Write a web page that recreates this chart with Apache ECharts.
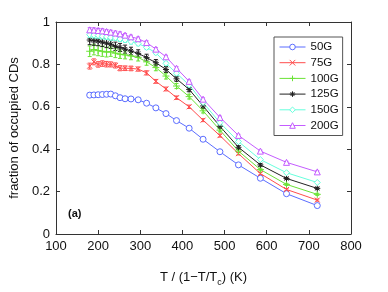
<!DOCTYPE html>
<html><head><meta charset="utf-8">
<script src="https://cdn.jsdelivr.net/npm/echarts@6/dist/echarts.min.js"></script>
<style>html,body{margin:0;padding:0;background:#fff}#c{width:388px;height:292px}</style>
</head><body><div id="c"></div>
<script>
var xVals = [180,190,200,210,220,230,241,252,264,278,295,315,337,361,386,416,449,489,533,585,647,720];
var seriesNames = ['50G','75G','100G','125G','150G','200G'];
var v50  = [0.655,0.656,0.657,0.658,0.659,0.660,0.652,0.643,0.638,0.637,0.633,0.617,0.595,0.568,0.535,0.499,0.447,0.388,0.326,0.263,0.190,0.134];
var v75  = [0.792,0.812,0.800,0.804,0.801,0.800,0.795,0.782,0.782,0.781,0.778,0.760,0.720,0.684,0.643,0.600,0.537,0.464,0.379,0.285,0.210,0.160];
var v100 = [0.862,0.870,0.865,0.862,0.858,0.860,0.853,0.848,0.845,0.840,0.833,0.812,0.785,0.745,0.698,0.648,0.581,0.490,0.391,0.304,0.234,0.187];
var v125 = [0.915,0.912,0.910,0.905,0.900,0.895,0.885,0.880,0.872,0.863,0.852,0.832,0.808,0.776,0.732,0.682,0.604,0.508,0.409,0.326,0.262,0.215];
var v150 = [0.940,0.938,0.936,0.933,0.930,0.927,0.925,0.920,0.915,0.907,0.898,0.880,0.855,0.805,0.758,0.703,0.620,0.525,0.436,0.351,0.289,0.243];
var v200 = [0.963,0.962,0.960,0.958,0.955,0.952,0.948,0.944,0.938,0.930,0.921,0.903,0.872,0.836,0.782,0.720,0.636,0.550,0.465,0.391,0.338,0.293];
var e50  = [0.010,0.010,0.010,0.010,0.010,0.010,0.009,0.009,0.009,0.008,0.008,0.008,0.007,0.007,0.007,0.006,0.006,0.006,0.005,0.005,0.005,0.005];
var e75  = [0.014,0.014,0.013,0.013,0.013,0.012,0.012,0.012,0.011,0.011,0.010,0.010,0.009,0.009,0.008,0.008,0.007,0.007,0.006,0.006,0.005,0.005];
var e100 = [0.025,0.025,0.024,0.024,0.023,0.022,0.021,0.020,0.019,0.018,0.017,0.016,0.015,0.014,0.012,0.011,0.010,0.008,0.007,0.006,0.005,0.005];
var e125 = [0.022,0.022,0.022,0.021,0.021,0.020,0.020,0.019,0.019,0.018,0.017,0.016,0.015,0.014,0.012,0.011,0.010,0.008,0.007,0.006,0.005,0.005];
var e150 = [0.014,0.014,0.014,0.013,0.013,0.013,0.012,0.012,0.011,0.011,0.010,0.010,0.009,0.009,0.008,0.008,0.007,0.006,0.006,0.005,0.005,0.005];
var e200 = [0.010,0.010,0.010,0.010,0.009,0.009,0.009,0.009,0.008,0.008,0.008,0.008,0.007,0.007,0.007,0.006,0.006,0.006,0.005,0.005,0.005,0.005];
var xTicks = [100,200,300,400,500,600,700,800];
var yTicks = [0,0.2,0.4,0.6,0.8,1];

var values = [v50,v75,v100,v125,v150,v200];
var errs = [e50,e75,e100,e125,e150,e200];
var colors = ['#5b6dff','#ff4d4d','#6be236','#222222','#66ffdd','#c45cff'];
var symbols = [
  'circle',
  'path://M0,0L10,10M10,0L0,10',
  'path://M5,0L5,10M0,5L10,5',
  'path://M5,0L5,10M0,5L10,5M1.5,1.5L8.5,8.5M8.5,1.5L1.5,8.5',
  'diamond',
  'triangle'
];
var symSizes = [6,5,7,6,6,6];
var hollow = [true,false,false,false,true,true];

var series = [];
values.forEach(function(vals, i){
  var c = colors[i];
  var ev = errs[i];
  series.push({
    type:'custom', xAxisIndex:0, yAxisIndex:0, silent:true, z:2,
    data: xVals.map(function(x,k){ return [x, vals[k]-ev[k], vals[k]+ev[k]]; }),
    renderItem: function(params, api){
      var lo = api.coord([api.value(0), api.value(1)]);
      var hi = api.coord([api.value(0), api.value(2)]);
      var w = 2;
      var st = {stroke:c, lineWidth:1};
      return {type:'group', children:[
        {type:'line', shape:{x1:lo[0],y1:lo[1],x2:hi[0],y2:hi[1]}, style:st},
        {type:'line', shape:{x1:lo[0]-w,y1:lo[1],x2:lo[0]+w,y2:lo[1]}, style:st},
        {type:'line', shape:{x1:hi[0]-w,y1:hi[1],x2:hi[0]+w,y2:hi[1]}, style:st}
      ]};
    }
  });
  series.push({
    name: seriesNames[i], type:'line', xAxisIndex:0, yAxisIndex:0, z:3,
    data: xVals.map(function(x,k){ return [x, vals[k]]; }),
    symbol: symbols[i], symbolSize: symSizes[i], showSymbol:true,
    lineStyle:{color:c, width:1},
    itemStyle:{color: hollow[i] ? '#ffffff' : c, borderColor:c, borderWidth:1},
    emphasis:{disabled:true}, animation:false
  });
});

var chart = echarts.init(document.getElementById('c'), null, {renderer:'canvas'});
var font = 'Liberation Sans, Arial, sans-serif';
var axisLineStyle = {color:'#333', width:1};
chart.setOption({
  animation:false,
  backgroundColor:'#fff',
  grid:{left:50, right:37, top:22, bottom:56},
  legend:{
    orient:'vertical', left:274, top:37, width:52,
    data: seriesNames,
    itemWidth:26, itemHeight:7, itemGap:3.7,
    padding:[4,4,4,5],
    itemStyle:{borderWidth:1},
    lineStyle:{width:1},
    borderColor:'#555', borderWidth:1, backgroundColor:'#fff',
    textStyle:{fontFamily:font, fontSize:11.5, color:'#111'}
  },
  xAxis:[{
    type:'value', min:100, max:800, interval:100, position:'bottom',
    axisLine:{onZero:false, lineStyle:axisLineStyle},
    axisTick:{inside:true, length:4, lineStyle:axisLineStyle},
    axisLabel:{fontFamily:font, fontSize:13, color:'#111', margin:6,
      formatter:function(v){ return xTicks.indexOf(v)>=0 ? String(v) : ''; }},
    splitLine:{show:false},
    name:'{a|T / (1\u2212T/T}{s|c}{a|) (K)}', nameLocation:'middle', nameGap:34,
    nameTextStyle:{rich:{a:{fontFamily:font, fontSize:13, color:'#111'}, s:{fontFamily:font, fontSize:9, color:'#111', padding:[10,0,0,0]}}}
  },{
    type:'value', min:100, max:800, interval:100, position:'top',
    axisLine:{onZero:false, lineStyle:axisLineStyle},
    axisTick:{inside:true, length:4, lineStyle:axisLineStyle},
    axisLabel:{show:false}, splitLine:{show:false}
  }],
  yAxis:[{
    type:'value', min:0, max:1, interval:0.2, position:'left',
    axisLine:{onZero:false, lineStyle:axisLineStyle},
    axisTick:{inside:true, length:4, lineStyle:axisLineStyle},
    axisLabel:{fontFamily:font, fontSize:13, color:'#111', margin:6,
      formatter:function(v){ var r=Math.round(v*10)/10; return yTicks.indexOf(r)>=0 ? String(r) : ''; }},
    splitLine:{show:false},
    name:'fraction of occupied CDs', nameLocation:'middle', nameGap:27,
    nameTextStyle:{fontFamily:font, fontSize:13, color:'#111'}
  },{
    type:'value', min:0, max:1, interval:0.2, position:'right',
    axisLine:{onZero:false, lineStyle:axisLineStyle},
    axisTick:{inside:true, length:4, lineStyle:axisLineStyle},
    axisLabel:{show:false}, splitLine:{show:false}
  }],
  graphic:[{type:'text', left:68, top:208, style:{text:'(a)', font:'bold 11px '+font, fill:'#111'}}],
  series: series
});
</script></body></html>
